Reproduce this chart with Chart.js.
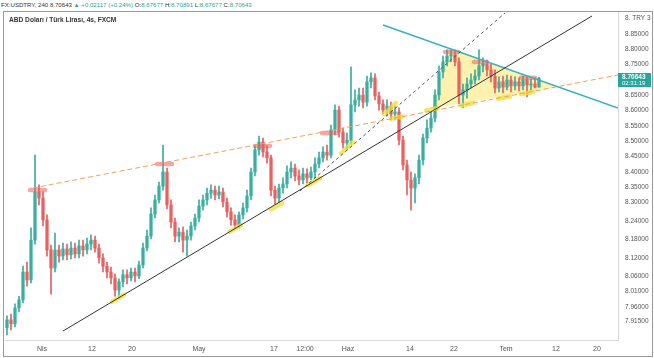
<!DOCTYPE html>
<html><head><meta charset="utf-8">
<script src="https://cdn.jsdelivr.net/npm/chart.js@4.4.1/dist/chart.umd.min.js"></script>
<style>
html,body{margin:0;padding:0;background:#fff;width:654px;height:358px;overflow:hidden;font-family:"Liberation Sans",Arial,sans-serif;}
#hdr{position:absolute;left:1px;top:0px;font-size:6.1px;line-height:9px;color:#333;white-space:nowrap;}
#hdr .g{color:#26a69a}
#frame{position:absolute;left:3px;top:11px;width:650px;height:346px;border:1px solid #9a9a9a;box-sizing:border-box}
#leg{position:absolute;left:9px;top:16px;font-size:6.6px;font-weight:bold;color:#333;white-space:nowrap;z-index:2}
#wrap{position:absolute;left:5px;top:12px;width:646px;height:343px;}
</style></head><body>
<div id="hdr">FX:USDTRY, 240 8.70643 <span class="g">▲ +0.02117 (+0.24%)</span> O:<span class="g">8.67677</span> H:<span class="g">8.70891</span> L:<span class="g">8.67677</span> C:<span class="g">8.70643</span></div>
<div id="frame"></div>
<div id="leg">ABD Doları / Türk Lirası, 4s, FXCM</div>
<div id="wrap"><canvas id="c"></canvas></div>
<script>
// ---- data (4h candles, index = bar number) ----
const opens = [7.892,7.918,7.905,7.957,7.983,8.074,8.048,8.178,8.335,8.315,8.244,8.146,8.087,8.146,8.126,8.149,8.130,8.152,8.133,8.159,8.146,8.165,8.178,8.152,8.120,8.093,8.074,8.055,8.015,8.042,8.065,8.055,8.074,8.061,8.097,8.152,8.191,8.263,8.309,8.354,8.400,8.293,8.237,8.191,8.204,8.178,8.191,8.224,8.250,8.289,8.309,8.331,8.341,8.325,8.335,8.302,8.270,8.244,8.227,8.260,8.283,8.322,8.400,8.472,8.498,8.465,8.446,8.341,8.315,8.348,8.361,8.400,8.413,8.387,8.374,8.394,8.381,8.400,8.426,8.446,8.465,8.455,8.537,8.602,8.530,8.495,8.504,8.619,8.635,8.651,8.628,8.694,8.707,8.648,8.622,8.602,8.615,8.589,8.596,8.504,8.423,8.374,8.348,8.381,8.439,8.511,8.543,8.576,8.651,8.726,8.759,8.778,8.782,8.759,8.651,8.668,8.687,8.700,8.713,8.746,8.752,8.733,8.713,8.674,8.694,8.677,8.700,8.681,8.694,8.681,8.700,8.684,8.687,8.677];
const highs = [7.931,7.937,7.970,7.995,8.093,8.106,8.218,8.455,8.358,8.335,8.260,8.162,8.201,8.162,8.168,8.165,8.172,8.168,8.178,8.178,8.185,8.195,8.191,8.165,8.133,8.106,8.090,8.068,8.052,8.081,8.081,8.087,8.087,8.110,8.168,8.211,8.283,8.325,8.367,8.488,8.413,8.309,8.250,8.218,8.221,8.211,8.237,8.263,8.309,8.325,8.348,8.358,8.354,8.354,8.348,8.315,8.283,8.260,8.270,8.299,8.341,8.413,8.488,8.517,8.511,8.485,8.455,8.354,8.361,8.381,8.420,8.433,8.426,8.407,8.413,8.410,8.416,8.446,8.465,8.482,8.488,8.553,8.619,8.615,8.543,8.527,8.743,8.668,8.674,8.674,8.713,8.723,8.720,8.661,8.635,8.635,8.628,8.615,8.609,8.517,8.439,8.400,8.394,8.455,8.524,8.570,8.596,8.668,8.746,8.778,8.798,8.798,8.798,8.772,8.687,8.707,8.720,8.733,8.798,8.772,8.765,8.752,8.733,8.710,8.713,8.716,8.713,8.710,8.707,8.713,8.710,8.703,8.707,8.709];
const lows = [7.869,7.885,7.895,7.944,7.973,8.028,8.038,8.165,8.293,8.224,8.126,8.002,8.074,8.106,8.113,8.113,8.117,8.120,8.120,8.126,8.133,8.146,8.139,8.103,8.074,8.055,8.035,7.995,7.989,8.025,8.035,8.045,8.042,8.052,8.087,8.143,8.182,8.250,8.299,8.341,8.280,8.218,8.172,8.172,8.139,8.126,8.178,8.211,8.237,8.276,8.293,8.315,8.309,8.312,8.286,8.253,8.227,8.214,8.218,8.247,8.270,8.309,8.387,8.455,8.449,8.429,8.322,8.296,8.302,8.331,8.348,8.381,8.371,8.358,8.361,8.364,8.374,8.381,8.413,8.433,8.439,8.446,8.521,8.514,8.478,8.472,8.491,8.596,8.615,8.609,8.615,8.674,8.635,8.602,8.589,8.583,8.570,8.570,8.488,8.407,8.325,8.276,8.299,8.361,8.423,8.495,8.530,8.563,8.635,8.707,8.746,8.759,8.746,8.622,8.609,8.641,8.674,8.687,8.700,8.726,8.713,8.694,8.658,8.661,8.658,8.668,8.661,8.668,8.664,8.668,8.645,8.668,8.674,8.677];
const closes = [7.918,7.905,7.957,7.983,8.074,8.048,8.178,8.335,8.315,8.244,8.146,8.087,8.146,8.126,8.149,8.130,8.152,8.133,8.159,8.146,8.165,8.178,8.152,8.120,8.093,8.074,8.055,8.015,8.042,8.065,8.055,8.074,8.061,8.097,8.152,8.191,8.263,8.309,8.354,8.400,8.293,8.237,8.191,8.204,8.178,8.191,8.224,8.250,8.289,8.309,8.331,8.341,8.325,8.335,8.302,8.270,8.244,8.227,8.260,8.283,8.322,8.400,8.472,8.498,8.465,8.446,8.341,8.315,8.348,8.361,8.400,8.413,8.387,8.374,8.394,8.381,8.400,8.426,8.446,8.465,8.455,8.537,8.602,8.530,8.495,8.504,8.619,8.635,8.651,8.628,8.694,8.707,8.648,8.622,8.602,8.615,8.589,8.596,8.504,8.423,8.374,8.348,8.381,8.439,8.511,8.543,8.576,8.651,8.726,8.759,8.778,8.782,8.759,8.651,8.668,8.687,8.700,8.713,8.746,8.752,8.733,8.713,8.674,8.694,8.677,8.700,8.681,8.694,8.681,8.700,8.684,8.687,8.677,8.706];
const lastPrice = 8.70643;

// x-axis tick labels (positions in bar units)
const xTickPos = [9.25,21.75,31.75,48.5,67.25,75,85.75,101.25,112.25,125.25,137.75,148];
const xTickLabels = ['Nis','12','20','May','17','12:00','Haz','14','22','Tem','12','20'];
// y-axis tick labels
const yTickVals = [8.90,8.85,8.80,8.75,8.65,8.60,8.55,8.50,8.45,8.40,8.35,8.30,8.24,8.18,8.12,8.06,8.01,7.96,7.915];
const yTickLabels = ['8. TRY 3','8.85000','8.80000','8.75000','8.65000','8.60000','8.55000','8.50000','8.45000','8.40000','8.35000','8.30000','8.24000','8.18000','8.12000','8.06000','8.01000','7.96000','7.91500'];

// drawn trend lines: [x1, y1, x2, y2] in bar units / price
const cyanLine = [94.5, 8.8793, 153.25, 8.6087];
const orangeLine = [7, 8.3479, 153.25, 8.7163];
const supportLine = [14.5, 7.8816, 146.75, 8.9087];
const dashedLine = [73.75, 8.3381, 125, 8.9185];
// triangle pattern corners
const triX = [107, 111, 138.25, 107];
const triY = [8.609, 8.804, 8.677, 8.609];
// touch markers [x1, x2, y1, y2]
const redMarks = [[6.25,10,8.341,8.341],[38,41.75,8.426,8.426],[62.5,66.25,8.485,8.485],[79.25,83,8.527,8.527],[110,113.25,8.791,8.791],[117.25,120.5,8.759,8.759],[129,132.5,8.707,8.707]];
const yellowMarks = [[26.75,29.75,7.977,8.000],[56.25,59,8.206,8.227],[66.5,69.25,8.278,8.299],[75.75,78.75,8.357,8.380],[84,87,8.461,8.497],[94.75,97.75,8.589,8.625],[96.5,99.5,8.574,8.581],[105.25,108.25,8.601,8.609],[114,117,8.617,8.625],[123.25,126.25,8.639,8.646],[129,132,8.654,8.661]];

const UP = '#3aaea0', DOWN = '#ea5f5f';
const candleColor = ctx => closes[ctx.dataIndex] >= opens[ctx.dataIndex] ? UP : DOWN;

const seg = (a, color, w, dash, order) => ({
  type:'line', data:[{x:a[0],y:a[1]},{x:a[2],y:a[3]}], borderColor:color, borderWidth:w,
  borderDash:dash, pointRadius:0, fill:false, order
});
const mark = (m, color) => ({
  type:'line', data:[{x:m[0],y:m[2]},{x:m[1],y:m[3]}], borderColor:color, borderWidth:4.5,
  borderCapStyle:'round', pointRadius:0, fill:false, order:3
});

const datasets = [
  {type:'line', data: triX.map((x,i)=>({x, y:triY[i]})), fill:'shape', backgroundColor:'rgba(255,232,120,0.6)',
   borderWidth:0, pointRadius:0, order:20},
  {type:'bar', data: lows.map((l,i)=>({x:i+0.5, y:[l, highs[i]]})), backgroundColor:candleColor,
   barThickness:1, grouped:false, order:8},
  {type:'bar', data: opens.map((o,i)=>({x:i+0.5, y:[o, closes[i]]})), backgroundColor:candleColor,
   barThickness:2.6, minBarLength:1, grouped:false, order:7},
  ...redMarks.map(m => mark(m, 'rgba(236,95,95,0.55)')),
  ...yellowMarks.map(m => mark(m, 'rgba(240,222,50,0.75)')),
  seg(orangeLine, '#f0a25a', 1, [5,3], 1),
  seg(supportLine, '#333333', 1, [], 1),
  seg(dashedLine, '#555555', 1, [3,3], 1),
  seg(cyanLine, '#35b1c4', 1.4, [], 1)
];

const priceTag = {
  id:'priceTag',
  afterDraw(chart){
    const {ctx, chartArea, scales} = chart;
    const y = scales.y.getPixelForValue(lastPrice);
    ctx.save();
    ctx.fillStyle = '#26a69a';
    ctx.fillRect(chartArea.right, y - 5, 34, 14);
    ctx.fillStyle = '#fff';
    ctx.textBaseline = 'middle';
    ctx.font = 'bold 6.5px "Liberation Sans"';
    ctx.fillText('8.70643', chartArea.right + 4, y - 0.5);
    ctx.font = '6px "Liberation Sans"';
    ctx.fillText('02:31:19', chartArea.right + 4, y + 5.5);
    ctx.restore();
  }
};

new Chart(document.getElementById('c'), {
  type:'bar',
  data:{datasets},
  plugins:[priceTag],
  options:{
    responsive:true, maintainAspectRatio:false, animation:false, events:[],
    layout:{padding:0},
    plugins:{legend:{display:false}, tooltip:{enabled:false}},
    scales:{
      x:{type:'linear', min:0, max:153.25, offset:false,
         grid:{display:false, drawTicks:false}, border:{display:true, color:'#d9d9d9'},
         afterBuildTicks(s){ s.ticks = xTickPos.map(v=>({value:v})); },
         afterFit(s){ s.height = 15; s.paddingLeft = 0; s.paddingRight = 0; },
         ticks:{autoSkip:false, maxRotation:0, padding:5, color:'#555',
                font:{size:7, family:'Liberation Sans'},
                callback:(v,i)=>xTickLabels[i]}},
      y:{type:'linear', position:'right', min:7.8523, max:8.9217,
         grid:{display:false, drawTicks:false}, border:{display:true, color:'#d9d9d9'},
         afterBuildTicks(s){ s.ticks = yTickVals.map(v=>({value:v})); },
         afterFit(s){ s.width = 33; s.paddingTop = 0; s.paddingBottom = 0; },
         ticks:{autoSkip:false, padding:7, color:'#555',
                font:{size:6.5, family:'Liberation Sans'},
                callback:(v,i)=>yTickLabels[i]}}
    }
  }
});
</script>
</body></html>
